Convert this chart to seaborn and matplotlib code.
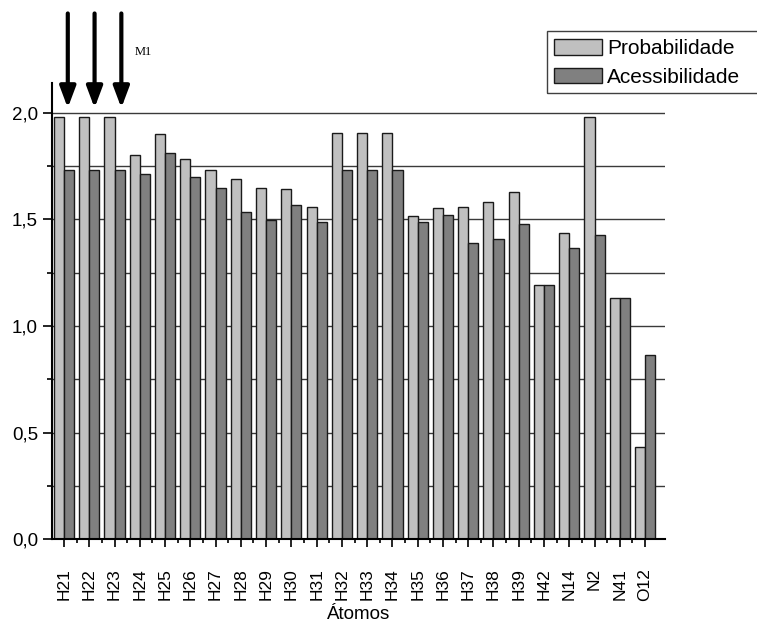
import matplotlib
matplotlib.use("Agg")
import matplotlib.pyplot as plt
from matplotlib.patches import Rectangle
from matplotlib.ticker import MultipleLocator, FixedLocator, FuncFormatter
import seaborn as sns
import pandas as pd

atoms = ["H21", "H22", "H23", "H24", "H25", "H26", "H27", "H28", "H29", "H30",
         "H31", "H32", "H33", "H34", "H35", "H36", "H37", "H38", "H39", "H42",
         "N14", "N2", "N41", "O12"]
probabilidade = [1.98, 1.98, 1.98, 1.80, 1.90, 1.785, 1.73, 1.69, 1.647, 1.641,
                 1.559, 1.903, 1.903, 1.903, 1.517, 1.552, 1.557, 1.580, 1.630, 1.192,
                 1.434, 1.981, 1.130, 0.434]
acessibilidade = [1.730, 1.730, 1.730, 1.713, 1.811, 1.700, 1.649, 1.536, 1.499, 1.566,
                  1.486, 1.730, 1.730, 1.730, 1.486, 1.519, 1.388, 1.409, 1.478, 1.192,
                  1.366, 1.425, 1.130, 0.864]
series_names = ["Probabilidade", "Acessibilidade"]
arrow_atoms = ["H21", "H22", "H23"]
annotation_text = "M1"

df = pd.DataFrame({
    "Átomo": atoms * 2,
    "Valor": probabilidade + acessibilidade,
    "Série": [series_names[0]] * len(atoms) + [series_names[1]] * len(atoms),
})

sns.set_style("white")
plt.rcParams["font.family"] = ["Liberation Sans", "DejaVu Sans"]
plt.rcParams["text.color"] = "black"
plt.rcParams["axes.labelcolor"] = "black"
plt.rcParams["xtick.color"] = "black"
plt.rcParams["ytick.color"] = "black"

W, H = 757, 626
fig = plt.figure(figsize=(W / 100, H / 100), dpi=100)
ax = fig.add_axes([52 / W, 1 - 539.3 / H, (665 - 52) / W, (539.3 - 83) / H])

sns.barplot(data=df, x="Átomo", y="Valor", hue="Série", order=atoms,
            hue_order=series_names, palette=["#C0C0C0", "#808080"],
            saturation=1, width=0.8, edgecolor="#1a1a1a", linewidth=1.0,
            errorbar=None, ax=ax, legend=True)

ax.set_xlim(-0.475, 23.79)
ax.set_ylim(0, 2.139)

# spines
for s in ["top", "right"]:
    ax.spines[s].set_visible(False)
for s in ["left", "bottom"]:
    ax.spines[s].set_color("black")
    ax.spines[s].set_linewidth(1.5)

ax.yaxis.set_major_locator(MultipleLocator(0.5))
ax.yaxis.set_minor_locator(MultipleLocator(0.25))
ax.yaxis.set_major_formatter(FuncFormatter(lambda v, p: f"{v:.1f}".replace(".", ",")))
ax.xaxis.set_minor_locator(FixedLocator([i + 0.5 for i in range(len(atoms) - 1)]))

ax.tick_params(axis="y", which="major", direction="out", length=6.5, width=1.2,
               labelsize=13.5, pad=3.5, left=True)
ax.tick_params(axis="y", which="minor", direction="out", length=3.5, width=1.2, left=True)
ax.tick_params(axis="x", which="major", direction="out", length=6, width=1.2,
               labelsize=12.5, pad=14.5, bottom=True, labelrotation=90)
ax.tick_params(axis="x", which="minor", direction="out", length=3, width=1.2, bottom=True)

ax.yaxis.grid(True, which="both", color="#3a3a3a", linewidth=1.0)
ax.xaxis.grid(False)
ax.set_axisbelow(True)
ax.set_ylabel("")
ax.set_xlabel("Átomos", fontsize=13.5, labelpad=3.5)

handles, labels = ax.get_legend_handles_labels()
leg = ax.legend(handles, labels, loc="upper left",
                bbox_to_anchor=(548 / W, 1 - 33 / H), bbox_transform=fig.transFigure,
                fontsize=15, frameon=False, handlelength=2.3,
                handleheight=0.75, handletextpad=0.25, borderpad=0.3, labelspacing=0.45,
                borderaxespad=0)
# legend frame running past the right edge as in the original
fig.patches.append(Rectangle((547 / W, 1 - 93 / H), 220 / W, 62 / H,
                             transform=fig.transFigure, facecolor="none",
                             edgecolor="#404040", linewidth=1.0))

# arrows over the first three atoms
for i, a in enumerate(arrow_atoms):
    xi = atoms.index(a) + 0.15 + 0.06 * i
    ax.annotate("", xy=(xi, 2.022), xytext=(xi, 2.465), xycoords="data",
                annotation_clip=False,
                arrowprops=dict(arrowstyle="-|>,head_length=0.8,head_width=0.3",
                                mutation_scale=16, lw=3, color="black",
                                shrinkA=0, shrinkB=0))
ax.text(3.13, 2.285, annotation_text, fontsize=9, family="Liberation Serif",
        ha="center", va="center", clip_on=False)

fig.savefig("out.png", dpi=100)
